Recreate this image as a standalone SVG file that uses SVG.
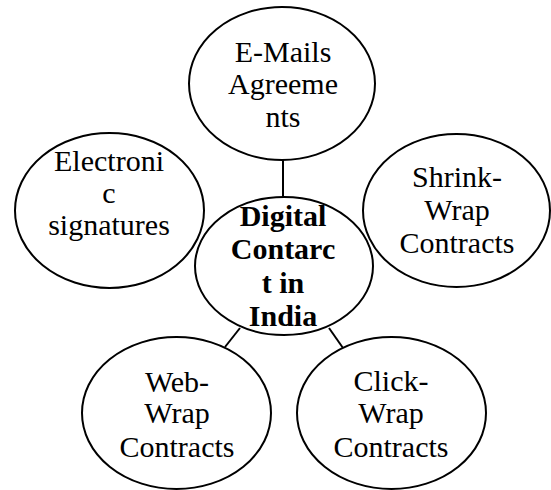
<svg xmlns="http://www.w3.org/2000/svg" width="551" height="490" viewBox="0 0 551 490">
  <style>
    .node { fill: none; stroke: #000; stroke-width: 2; }
    .conn { stroke: #000; stroke-width: 2; fill: none; }
    .t { font-family: "Liberation Serif", "Times New Roman", serif; font-size: 30px; fill: #000; text-anchor: middle; }
    .b { font-weight: bold; }
  </style>
  <rect width="551" height="490" fill="#fff"/>
  <g id="connectors">
    <line class="conn" x1="283" y1="160" x2="283" y2="197"/>
    <line class="conn" x1="240" y1="328" x2="225" y2="347"/>
    <line class="conn" x1="329" y1="328" x2="343" y2="348"/>
  </g>
  <g id="node-emails">
    <ellipse class="node" cx="282" cy="83.5" rx="93" ry="76.5"/>
    <text class="t" x="283" y="62">E-Mails</text>
    <text class="t" x="283" y="94">Agreeme</text>
    <text class="t" x="283" y="127">nts</text>
  </g>
  <g id="node-electronic">
    <ellipse class="node" cx="109.5" cy="210.5" rx="94.5" ry="77.5"/>
    <text class="t" x="109" y="171">Electroni</text>
    <text class="t" x="109" y="203">c</text>
    <text class="t" x="109" y="235">signatures</text>
  </g>
  <g id="node-shrink">
    <ellipse class="node" cx="456.5" cy="210.5" rx="93.5" ry="76.5"/>
    <text class="t" x="457" y="187">Shrink-</text>
    <text class="t" x="457" y="220">Wrap</text>
    <text class="t" x="457" y="253">Contracts</text>
  </g>
  <g id="node-center">
    <ellipse class="node" cx="284" cy="266" rx="89" ry="69"/>
    <text class="t b" x="283" y="226">Digital</text>
    <text class="t b" x="283" y="259">Contarc</text>
    <text class="t b" x="283" y="293">t in</text>
    <text class="t b" x="283" y="326">India</text>
  </g>
  <g id="node-web">
    <ellipse class="node" cx="176.5" cy="413" rx="94.5" ry="76"/>
    <text class="t" x="177" y="392">Web-</text>
    <text class="t" x="177" y="423">Wrap</text>
    <text class="t" x="177" y="457">Contracts</text>
  </g>
  <g id="node-click">
    <ellipse class="node" cx="391.5" cy="413" rx="94.5" ry="76"/>
    <text class="t" x="391" y="391">Click-</text>
    <text class="t" x="391" y="423">Wrap</text>
    <text class="t" x="391" y="457">Contracts</text>
  </g>
</svg>
